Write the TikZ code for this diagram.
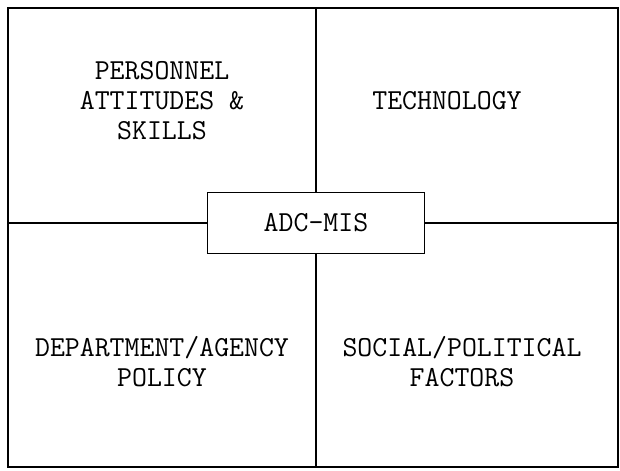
\documentclass[tikz,border=0pt]{standalone}
\begin{document}
\begin{tikzpicture}[line width=1.1pt,
    every node/.style={font=\ttfamily\fontsize{16.5}{17}\selectfont, align=center},
    core/.style={draw, fill=white, minimum width=4.34cm, minimum height=1.22cm}]
      \useasboundingbox (0,0) rectangle (12.4,9.4);
      \draw (0.16,0.06) rectangle (12.36,9.24);
      \coordinate (top) at (6.32,9.24);
      \coordinate (bottom) at (6.32,0.06);
      \coordinate (left) at (0.16,4.94);
      \coordinate (right) at (12.36,4.94);
      \node[core] (mis) at (6.32,4.94) {ADC-MIS};
      \node (staff) at (3.24,7.38) {PERSONNEL\\ATTITUDES \&\\SKILLS};
      \node (tech) at (8.94,7.38) {TECHNOLOGY};
      \node (policy) at (3.24,2.16) {DEPARTMENT/AGENCY\\POLICY};
      \node (social) at (9.24,2.16) {SOCIAL/POLITICAL\\FACTORS};
      \draw (mis) -- (top);
      \draw (mis) -- (bottom);
      \draw (mis) -- (left);
      \draw (mis) -- (right);
    \end{tikzpicture}
\end{document}
